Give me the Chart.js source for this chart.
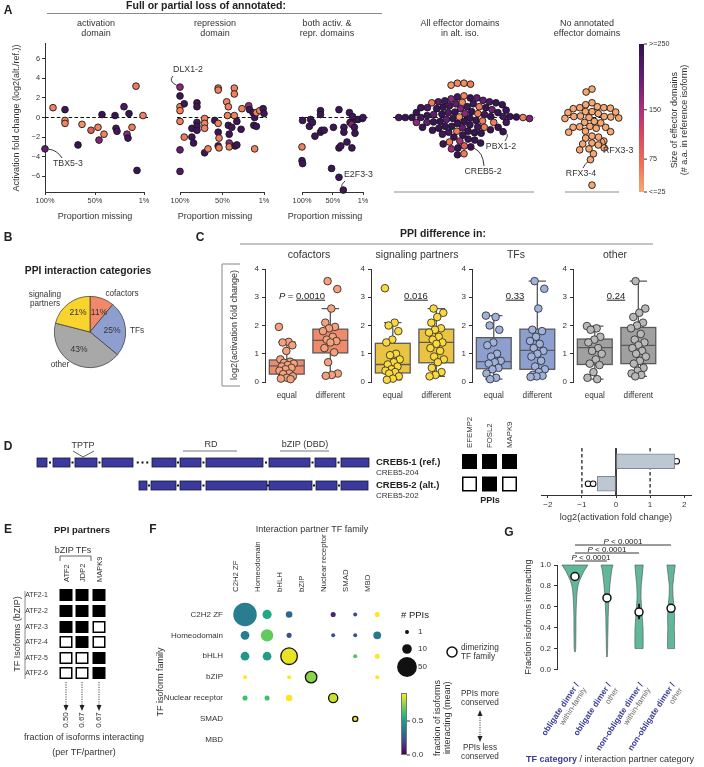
<!DOCTYPE html>
<html><head><meta charset="utf-8">
<script src="https://cdn.jsdelivr.net/npm/chart.js@4.4.1/dist/chart.umd.min.js"></script>
<style>
html,body{margin:0;padding:0;background:#fff;}
#root{position:relative;width:704px;height:767px;overflow:hidden;background:#fff;font-family:"Liberation Sans",Arial,Helvetica,sans-serif;color:#222;}
.t{position:absolute;white-space:nowrap;line-height:1.12;z-index:3;}
.v{writing-mode:vertical-rl;text-align:center;}
canvas{position:absolute;z-index:1;}
svg{position:absolute;left:0;top:0;z-index:2;}
</style></head><body><div id="root"></div>
<script>
// ======================= DATA =======================
// Panel A - activation fold change vs proportion missing
const aActX=[100,92,80,80,80,67,63,54,47,46,43,41,30,29,28,21,18,17,16,13,9,8,2];
const aActY=[-3.2,1.0,0.8,-0.3,-0.6,-2.8,-0.7,-1.3,-1.0,-2.3,0.3,-1.7,0.2,-1.1,-1.4,1.1,-1.7,-2.1,0.4,-1.0,3.2,-5.4,0.2];
const aActSize=[200,55,235,50,55,240,45,90,55,180,240,55,240,230,230,220,170,235,240,60,60,240,55];
const aRepX=[100,100,100,100,100,100,100,95,95,86,84,86,80,80,80,80,80,71,71,71,71,67,59,55,55,55,55,54,55,54,45,43,44,43,42,42,42,36,36,36,39,35,33,33,28,27,19,18,14,12,10,13,10,12,6,2,1];
const aRepY=[3.1,2.2,1.1,0.7,-0.4,-3.3,-5.5,1.4,-2.0,-2.0,-2.6,-1.1,1.5,1.1,-0.5,-0.9,-1.3,-0.1,-0.6,-1.1,-3.6,-3.2,-0.3,3.0,2.8,-0.6,-1.5,-2.1,-2.9,-3.1,1.6,1.1,0.2,-0.8,-1.7,-2.6,-3.0,3.0,2.4,0.2,-1.0,-2.9,-0.4,-2.8,-1.2,0.9,1.2,0.8,0.5,0.0,0.5,-0.8,-0.9,-3.2,0.7,0.9,0.4];
const aRepSize=[170,235,55,55,55,200,220,235,60,235,240,235,235,235,235,235,235,55,55,55,235,55,235,55,55,55,235,55,235,60,55,55,55,235,235,170,55,55,55,55,235,235,235,235,235,55,170,235,235,235,55,235,235,55,55,235,235];
const aBothX=[100,99,100,99,88,86,83,79,70,70,70,68,64,52,49,40,40,40,37,33,32,32,27,23,22,19,19,15,14,13,9,2,1,18];
const aBothY=[-3.0,-0.3,-4.4,-4.7,-0.9,-0.2,-0.5,-1.9,0.7,0.3,-1.5,-1.3,-1.3,-5.2,-1.0,0.8,-3.1,-6.1,-2.9,-7.4,-1.0,-1.5,-2.5,0.5,-0.5,-0.7,-3.1,-1.0,-1.6,-0.2,-0.2,-0.1,0.0,0.1];
const aBothSize=[55,235,235,235,235,235,235,235,235,235,235,235,235,235,235,235,235,235,235,235,235,235,235,235,235,170,235,235,235,235,235,235,235,235];
const aAllY=[3.5,3.4,3.5,3.3,2.0,2.1,2.0,1.9,1.6,1.5,
 1.4,1.5,1.4,1.3,1.6,1.1,1.0,0.9,1.0,1.1,
 0.9,1.0,0.8,1.05,0.6,0.5,0.4,0.5,1.7,0.4,
 0.5,1.75,0.55,0.3,0.35,1.55,0.1,0.0,-0.1,0.05,
 0.0,0.3,-0.05,0.1,0.0,-0.1,0.05,0.0,0.1,-0.3,
 0.0,0.2,-0.2,0.75,1.2,-0.75,-1.25,2.2,-1.8,-2.2,
 -0.4,-0.5,-1.7,-0.6,-0.5,-0.4,-1.55,-0.35,-0.5,-1.3,
 -0.45,-0.5,-0.9,-1.0,-1.1,-0.95,-1.0,-1.05,-0.9,-1.0,
 -1.4,-1.5,-1.4,-1.6,-1.45,-2.0,-2.3,-2.4,-2.5,-2.6,
 -2.7,-2.9,-3.0,-3.1,-3.2,-3.8,-3.7];
const aAllSize=[45,60,50,40,240,230,200,170,220,240,
 200,60,230,240,210,230,240,180,220,60,
 240,230,190,240,240,220,170,240,230,60,
 240,200,240,230,240,50,240,230,240,40,
 240,200,240,230,240,180,240,60,240,240,
 230,240,200,240,230,240,240,50,240,240,
 240,60,230,240,200,240,240,60,230,240,
 240,170,240,60,240,230,240,200,240,240,
 240,230,60,240,240,240,240,150,60,240,
 240,90,240,240,160,240,60];
const aNoneY=[2.9,2.6,1.5,1.1,1.0,0.9,1.0,0.95,0.6,0.5,
 0.55,1.3,0.6,0.4,0.1,0.0,0.05,-0.05,0.1,
 0.15,-0.1,-0.4,-0.5,-2.4,-0.55,-0.4,-0.9,
 -1.0,-1.1,-0.95,-1.0,-1.4,-1.5,-1.45,-1.9,-2.0,-2.1,
 -2.6,-2.7,-2.8,-3.1,-3.2,-3.3,-3.7,-4.3,-6.9];
const aXTicks=[100,50,1];
const aYTicks=[-6,-4,-2,0,2,4,6];
const aSizeTicks=['>=250','150','75','<=25'];
const aSizeTickVals=[250,150,75,25];

// Panel B - PPI categories
const bCategories=['cofactors','TFs','other','signaling partners'];
const bPercent=[11,25,43,21];

// Panel C - box plots
const cGroups=['cofactors','signaling partners','TFs','other'];
const cConditions=['equal','different'];
const cPValues=['0.0010','0.016','0.33','0.24'];
const cCofEqual=[1.95,1.42,1.4,1.3,1.1,0.8,0.72,0.68,0.65,0.6,0.55,0.5,0.45,0.4,0.3,0.28,0.2,0.15,0.12,0.1];
const cCofDiff=[3.57,3.29,2.6,2.1,1.95,1.9,1.8,1.6,1.5,1.45,1.4,1.2,1.05,0.7,0.3,0.25,0.22];
const cSigEqual=[3.32,2.1,2.0,1.8,1.5,1.4,1.0,0.95,0.8,0.7,0.62,0.55,0.45,0.4,0.35,0.3,0.2,0.12,0.08];
const cSigDiff=[2.6,2.45,2.3,2.1,1.9,1.85,1.75,1.6,1.5,1.4,1.35,1.2,1.1,0.9,0.8,0.7,0.5,0.35,0.25,0.2];
const cTfEqual=[2.35,2.3,2.0,1.85,1.4,1.3,1.0,0.9,0.75,0.7,0.65,0.5,0.45,0.3,0.15,0.1];
const cTfDiff=[3.57,3.3,2.6,1.85,1.8,1.6,1.45,1.35,1.2,1.1,1.0,0.9,0.75,0.55,0.45,0.35,0.25,0.22,0.2,0.18];
const cOthEqual=[1.98,1.9,1.85,1.6,1.5,1.4,1.2,1.1,1.0,0.8,0.65,0.6,0.35,0.15,0.1];
const cOthDiff=[3.57,2.6,2.45,2.3,2.1,2.0,1.9,1.7,1.5,1.4,1.3,1.2,1.1,1.0,0.9,0.75,0.65,0.5,0.4,0.3,0.25,0.2];
// box stats: [whisker low, q1, median, q3, whisker high]
const cCofBox=[[0.1,0.28,0.57,0.78,1.42],[0.22,1.03,1.47,1.87,2.6]];
const cSigBox=[[0.08,0.32,0.62,1.37,2.1],[0.2,0.68,1.4,1.87,2.6]];
const cTfBox=[[0.1,0.47,0.72,1.57,2.35],[0.18,0.45,1.12,1.87,3.57]];
const cOthBox=[[0.1,0.62,1.22,1.52,1.98],[0.2,0.65,1.3,1.93,3.57]];

// Panel D
const dIsoforms=['CREB5-1 (ref.)','CREB5-2 (alt.)'];
const dTranscripts=['CREB5-204','CREB5-202'];
const dPartners=['EFEMP2','FOSL2','MAPK9'];
const dPPI=[[1,1,1],[0,1,0]];
const dFold=[1.72,-0.55];
const dRepRef=[1.65,1.78];
const dRepAlt=[-0.82,-0.67,-0.44];
const dXTicks=[-2,-1,0,1,2];

// Panel E
const eIsoforms=['ATF2-1','ATF2-2','ATF2-3','ATF2-4','ATF2-5','ATF2-6'];
const ePartners=['ATF2','JDP2','MAPK9'];
const ePPI=[[1,1,1],[1,1,1],[1,1,0],[0,1,0],[0,0,1],[0,0,1]];
const eFraction=['0.50','0.67','0.67'];

// Panel F
const fFamilies=['C2H2 ZF','Homeodomain','bHLH','bZIP','Nuclear receptor','SMAD','MBD'];
const fRow =[0,0,0,0,0,0, 1,1,1,1,1,1, 2,2,2,2,2, 3,3,3,3, 4,4,4,4, 5];
const fCol =[0,1,2,4,5,6, 0,1,2,4,5,6, 0,1,2,5,6, 0,2,3,6, 0,1,2,4, 5];
const fNPPI=[72,9,4,2,1,2, 8,18,2,1,1,6, 8,8,34,1,2, 1,1,15,1, 2,2,4,9, 2];
const fFrac=[0.38,0.54,0.30,0.09,0.2,0.95, 0.38,0.68,0.22,0.22,0.22,0.36, 0.47,0.50,0.87,0.65,0.95, 0.95,0.95,0.74,0.95, 0.63,0.63,0.95,0.83, 0.95];
const fDimer=[0,0,0,0,0,0, 0,0,0,0,0,0, 0,0,1,0,0, 0,0,1,0, 0,0,0,1, 1];
const fLegendN=[1,10,50];
const fColorTicks=['0.5','0.0'];

// Panel G
const gCategory=[['obligate dimer','within-family'],['obligate dimer','other'],['non-obligate dimer','within-family'],['non-obligate dimer','other']];
const gMeans=[0.89,0.685,0.55,0.585];
const gErrLo=[0.85,0.665,0.48,0.55];
const gErrHi=[0.93,0.705,0.63,0.62];
const gViolinLevels=[
 [0.17,0.2,0.3,0.4,0.5,0.6,0.7,0.75,0.8,0.85,0.9,0.94,0.97,1.0],
 [0.12,0.2,0.3,0.4,0.5,0.6,0.7,0.8,0.9,0.96,1.0],
 [0.2,0.25,0.3,0.4,0.5,0.6,0.7,0.8,0.9,1.0],
 [0.2,0.3,0.4,0.5,0.6,0.7,0.8,0.9,1.0]];
const gViolinDensity=[
 [0.03,0.06,0.07,0.08,0.08,0.10,0.14,0.17,0.23,0.35,0.54,0.69,0.85,1.0],
 [0.02,0.05,0.06,0.08,0.09,0.12,0.17,0.22,0.31,0.38,0.46],
 [0.31,0.32,0.32,0.31,0.25,0.19,0.15,0.17,0.25,0.32],
 [0.27,0.27,0.25,0.27,0.23,0.15,0.13,0.22,0.32]];
const gBrackets=[[0,3],[0,2],[0,1]];
const gYTicks=[0,0.2,0.4,0.6,0.8,1.0];

// ======================= SETUP =======================
const FONT='"Liberation Sans", Arial, Helvetica, sans-serif';
Chart.defaults.font.family=FONT; Chart.defaults.color='#333'; Chart.defaults.animation=false;
Chart.defaults.responsive=false; Chart.defaults.maintainAspectRatio=false;
Chart.defaults.plugins.legend.display=false; Chart.defaults.plugins.tooltip.enabled=false;
Chart.defaults.events=[];
const root=document.getElementById('root');
const NS='http://www.w3.org/2000/svg';
const svg=document.createElementNS(NS,'svg');svg.setAttribute('width',704);svg.setAttribute('height',767);root.appendChild(svg);
function S(tag,a){const e=document.createElementNS(NS,tag);for(const k in a)e.setAttribute(k,a[k]);svg.appendChild(e);return e;}
function line(x1,y1,x2,y2,stroke,w,dash){const a={x1,y1,x2,y2,stroke:stroke||'#222','stroke-width':w||1};if(dash)a['stroke-dasharray']=dash;return S('line',a);}
function rect(x,y,w,h,fill,stroke,sw){return S('rect',{x,y,width:w,height:h,fill,stroke:stroke||'none','stroke-width':sw||0});}
function circ(cx,cy,r,fill,stroke,sw){return S('circle',{cx,cy,r,fill,stroke:stroke||'none','stroke-width':sw||0});}
function T(x,y,html,size,style,anchor){const d=document.createElement('div');d.className='t';d.innerHTML=html;d.style.left=x+'px';d.style.top=y+'px';d.style.fontSize=size+'px';const ax=anchor==='l'?'0':anchor==='r'?'-100%':'-50%';d.style.transform='translate('+ax+',-50%)';if(style)d.style.cssText+=';'+style;root.appendChild(d);return d;}
function V(x,y,html,size,style,bottom){const d=document.createElement('div');d.className='t v';d.innerHTML=html;d.style.left=x+'px';d.style.top=y+'px';d.style.fontSize=size+'px';d.style.transform=bottom?'translate(-50%,-100%) rotate(180deg)':'translate(-50%,-50%) rotate(180deg)';if(style)d.style.cssText+=';'+style;root.appendChild(d);return d;}
function mkCanvas(x,y,w,h){const c=document.createElement('canvas');c.width=w;c.height=h;c.style.left=x+'px';c.style.top=y+'px';c.style.width=w+'px';c.style.height=h+'px';root.appendChild(c);return c;}
function hex(h){return [1,3,5].map(i=>parseInt(h.substr(i,2),16));}
function lerpColor(stops,t){t=Math.max(0,Math.min(1,t));for(let i=1;i<stops.length;i++){if(t<=stops[i][0]){const a=hex(stops[i-1][1]),b=hex(stops[i][1]);const f=(t-stops[i-1][0])/(stops[i][0]-stops[i-1][0]);return 'rgb('+a.map((v,k)=>Math.round(v+(b[k]-v)*f)).join(',')+')';}}return stops[stops.length-1][1];}
const MAGMA=[[0,'#f7a772'],[0.2,'#ee6e55'],[0.4,'#d4465f'],[0.56,'#a8317a'],[0.75,'#6a1f75'],[1,'#2e1150']];
const VIRIDIS=[[0,'#440154'],[0.1,'#482475'],[0.2,'#414487'],[0.3,'#355f8d'],[0.4,'#2a788e'],[0.5,'#21918c'],[0.6,'#22a884'],[0.7,'#44bf70'],[0.8,'#7ad151'],[0.9,'#bddf26'],[1,'#fde725']];
const sizeColor=s=>lerpColor(MAGMA,(s-25)/225);
const fracColor=f=>lerpColor(VIRIDIS,f/0.9);
const grad=st=>'linear-gradient(to top,'+st.map(s=>s[1]+' '+(s[0]*100)+'%').join(',')+')';
const fmt=v=>(v<0?'\u2212':'')+Math.abs(v);
const BLUE='#3b3b9b';
const fixH=h=>s=>{s.height=h;s.paddingLeft=0;s.paddingRight=0;};
const fixW=w=>s=>{s.width=w;s.paddingTop=0;s.paddingBottom=0;};

// ======================= PANEL A =======================
function zeroLine(eL,eR){return{id:'zl',beforeDatasetsDraw(ch){const{ctx,chartArea:a,scales:{y}}=ch;const py=y.getPixelForValue(0);ctx.save();ctx.setLineDash([3.6,2.3]);ctx.lineWidth=1.2;ctx.strokeStyle='#111';ctx.beginPath();ctx.moveTo(a.left-eL,py);ctx.lineTo(a.right+eR,py);ctx.stroke();ctx.restore();}};}
function baseLine(){return{id:'bl',beforeDatasetsDraw(ch){const{ctx,chartArea:a}=ch;ctx.save();ctx.strokeStyle='#8c8c8c';ctx.lineWidth=1.2;ctx.beginPath();ctx.moveTo(a.left,a.bottom);ctx.lineTo(a.right,a.bottom);ctx.stroke();ctx.restore();}};}
function labelsPlugin(list,ox,oy){return{id:'lbl',afterDatasetsDraw(ch){const ctx=ch.ctx;const els=ch.getDatasetMeta(0).data;ctx.save();ctx.font='8.8px '+FONT;ctx.fillStyle='#333';ctx.strokeStyle='#222';ctx.lineWidth=0.9;
 list.forEach(L=>{let best=null,bd=1e9;els.forEach(e=>{const d=(e.x-(L.px-ox))**2+(e.y-(L.py-oy))**2;if(d<bd){bd=d;best=e;}});
  const cpx=L.cp[0]-ox,cpy=L.cp[1]-oy,ex=L.lx-ox,ey=L.ly-oy;const ang=Math.atan2(cpy-best.y,cpx-best.x);
  ctx.beginPath();ctx.moveTo(best.x+3.6*Math.cos(ang),best.y+3.6*Math.sin(ang));ctx.quadraticCurveTo(cpx,cpy,ex,ey);ctx.stroke();
  ctx.textAlign=L.align;ctx.textBaseline='middle';ctx.fillText(L.text,L.tx-ox,L.ty-oy);});ctx.restore();}};}
function makeA(o){
 const c=mkCanvas(o.cx,35,o.cw,200);
 const pts=o.ys.map((y,i)=>({x:o.xs?o.xs[i]:0,y:y}));
 const colors=o.sizes?o.sizes.map(sizeColor):sizeColor(0);
 const tickFont={size:7.4};
 const xScale=o.swarm?{type:'linear',display:false,min:-o.half,max:o.half}:
  {type:'linear',min:1,max:100,reverse:true,afterBuildTicks:s=>{s.ticks=aXTicks.map(v=>({value:v}));},
   ticks:{callback:v=>v+'%',font:tickFont,color:'#333',padding:2,maxRotation:0,autoSkip:false},
   grid:{drawOnChartArea:false,tickLength:3,color:'#333'},border:{color:'#333',width:1},afterFit:fixH(43)};
 const chart=new Chart(c,{type:'scatter',data:{datasets:[{data:pts,pointRadius:3.35,pointBorderWidth:0.9,pointBorderColor:'#1a1a1a',pointBackgroundColor:colors,clip:false}]},
  options:{layout:{padding:{left:o.showY?0:o.aL-o.cx,right:o.cx+o.cw-o.aR,top:8,bottom:o.swarm?43:0}},
   scales:{x:xScale,
    y:{type:'linear',display:!!o.showY,min:-7.6,max:7.6,afterBuildTicks:s=>{s.ticks=aYTicks.map(v=>({value:v}));},
     ticks:{callback:fmt,font:tickFont,color:'#333',padding:2},grid:{drawOnChartArea:false,tickLength:3,color:'#333'},border:{color:'#333',width:1},afterFit:fixW(o.aL-o.cx)}}},
  plugins:[zeroLine(o.eL,o.eR),labelsPlugin(o.labels||[],o.cx,35)].concat(o.swarm?[baseLine()]:[])});
 if(o.swarm){
  const r=3.3;const ys=pts.map(p=>chart.scales.y.getPixelForValue(p.y));
  const order=ys.map((y,i)=>i).sort((a,b)=>ys[a]-ys[b]);const placed=[];const off=[];
  order.forEach(i=>{const y=ys[i];const near=placed.filter(p=>Math.abs(p.y-y)<2*r);const cands=[0];
   near.forEach(p=>{const dx=Math.sqrt(4*r*r-(p.y-y)**2);cands.push(p.x+dx,p.x-dx);});
   cands.sort((a,b)=>Math.abs(a)-Math.abs(b)||a-b);let best=0;
   for(const cd of cands){if(near.every(p=>(p.x-cd)**2+(p.y-y)**2>=4*r*r-0.01)){best=cd;break;}}
   off[i]=best;placed.push({x:best,y:y});});
  const x0=chart.scales.x.getPixelForValue(0);
  pts.forEach((p,i)=>{p.x=chart.scales.x.getValueForPixel(x0+off[i]);});
  chart.update('none');
 }
 return chart;
}
makeA({cx:0,cw:152,aL:45,aR:144,showY:true,xs:aActX,ys:aActY,sizes:aActSize,eL:0,eR:4,
 labels:[{px:46,py:149,text:'TBX5-3',tx:53,ty:164,align:'left',lx:62,ly:158,cp:[57,150]}]});
makeA({cx:152,cw:118,aL:166,aR:264,xs:aRepX,ys:aRepY,sizes:aRepSize,eL:3,eR:3,
 labels:[{px:165,py:87,text:'DLX1-2',tx:188,ty:70,align:'center',lx:173,ly:76,cp:[168,81]}]});
makeA({cx:270,cw:106,aL:286,aR:363,xs:aBothX,ys:aBothY,sizes:aBothSize,eL:3,eR:7,
 labels:[{px:338,py:191,text:'E2F3-3',tx:344,ty:175,align:'left',lx:345,ly:181,cp:[341,185]}]});
makeA({cx:378,cw:164,aL:386,aR:534,swarm:true,half:74,ys:aAllY,sizes:aAllSize,eL:1,eR:1,
 labels:[{px:505,py:133,text:'PBX1-2',tx:501,ty:147,align:'center',lx:505,ly:141,cp:[509,135]},
         {px:472,py:148,text:'CREB5-2',tx:483,ty:172,align:'center',lx:484,ly:166,cp:[483,152]}]});
makeA({cx:545,cw:91,aL:555,aR:619,swarm:true,half:32,ys:aNoneY,sizes:null,eL:2,eR:1,
 labels:[{px:597,py:137,text:'RFX3-3',tx:603,ty:151,align:'left',lx:606,ly:147,cp:[605,139]},
         {px:586,py:160,text:'RFX3-4',tx:581,ty:174,align:'center',lx:583,ly:168,cp:[585,164]}]});

T(8,11,'A',12,'font-weight:bold');
T(206,6,'Full or partial loss of annotated:',10.5,'font-weight:bold');
line(47,13.5,382,13.5,'#8a8a8a',1.2);
T(96,28,'activation<br>domain',9,'text-align:center;color:#333');
T(215,28,'repression<br>domain',9,'text-align:center;color:#333');
T(327,28,'both activ. &amp;<br>repr. domains',9,'text-align:center;color:#333');
T(460,28,'All effector domains<br>in alt. iso.',9,'text-align:center;color:#333');
T(587,28,'No annotated<br>effector domains',9,'text-align:center;color:#333');
V(16,118,'Activation fold change (log2(alt./ref.))',9,'color:#333');
[95,215,325].forEach(x=>T(x,216,'Proportion missing',9,'color:#333'));
// colorbar A
(function(){const d=document.createElement('div');d.style.cssText='position:absolute;left:639px;top:44px;width:5px;height:148px;z-index:2;background:'+grad(MAGMA);root.appendChild(d);
 aSizeTickVals.forEach((v,i)=>{const y=192-(v-25)/225*148;line(644,y,647,y,'#333',1);T(649,y,aSizeTicks[i],7.2,'color:#333','l');});
 V(679,120,'Size of effector domains<br>(# a.a. in reference isoform)',9,'color:#333');})();

// ======================= PANEL B =======================
T(8,238,'B',12,'font-weight:bold');
T(88,271,'PPI interaction categories',10.3,'font-weight:bold');
new Chart(mkCanvas(40,282,100,100),{type:'pie',data:{labels:bCategories,datasets:[{data:bPercent,backgroundColor:['#f2886a','#8e9fcf','#a8a8a8','#f9d42f'],borderColor:'#333',borderWidth:0.7}]},options:{layout:{padding:14}}});
T(45,299,'signaling<br>partners',8.2,'text-align:center;color:#333');
T(122,294,'cofactors',8.2,'color:#333');
T(137,331,'TFs',8.2,'color:#333');
T(60,365,'other',8.2,'color:#333');
T(78,313,bPercent[3]+'%',8.5,'color:#333');
T(99,313,bPercent[0]+'%',8.5,'color:#333');
T(112,331,bPercent[1]+'%',8.5,'color:#333');
T(79,350,bPercent[2]+'%',8.5,'color:#333');

// ======================= PANEL C =======================
T(200,238,'C',12,'font-weight:bold');
T(443,234,'PPI difference in:',10.5,'font-weight:bold');
line(240,244,653,244,'#8a8a8a',1.2);
line(222,264,222,386,'#9a9a9a',1.2);line(222,264,240,264,'#9a9a9a',1.2);line(222,386,240,386,'#9a9a9a',1.2);
V(234,325,'log2(activation fold change)',9,'color:#333');
const jit=i=>(((i*0.618034)%1)-0.5)*0.36;
function boxPlugin(stats,fill){return{id:'box',beforeDatasetsDraw(ch){const{ctx,scales:{x,y}}=ch;ctx.save();
 stats.forEach((s,k)=>{const cx=x.getPixelForValue(k);const hw=x.getPixelForValue(0.4)-x.getPixelForValue(0);const p=s.map(v=>y.getPixelForValue(v));
  ctx.strokeStyle='#5a5a5a';ctx.lineWidth=1.3;ctx.beginPath();ctx.moveTo(cx,p[3]);ctx.lineTo(cx,p[4]);ctx.moveTo(cx-hw/2,p[4]);ctx.lineTo(cx+hw/2,p[4]);
  ctx.moveTo(cx,p[1]);ctx.lineTo(cx,p[0]);ctx.moveTo(cx-hw/2,p[0]);ctx.lineTo(cx+hw/2,p[0]);ctx.stroke();
  ctx.fillStyle=fill;ctx.fillRect(cx-hw,p[3],2*hw,p[1]-p[3]);ctx.strokeRect(cx-hw,p[3],2*hw,p[1]-p[3]);
  ctx.beginPath();ctx.moveTo(cx-hw,p[2]);ctx.lineTo(cx+hw,p[2]);ctx.stroke();});ctx.restore();}};}
function makeC(axisX,eq,diff,stats,boxFill,ptFill){
 const c=mkCanvas(axisX-26,258,118,142);
 const pts=eq.map((v,i)=>({x:0+jit(i),y:v})).concat(diff.map((v,i)=>({x:1+jit(i+7),y:v})));
 new Chart(c,{type:'scatter',data:{datasets:[{data:pts,pointRadius:3.8,pointBorderWidth:0.9,pointBorderColor:'#333',pointBackgroundColor:ptFill,clip:false}]},
  options:{layout:{padding:{left:0,right:2,top:11,bottom:0}},
   scales:{x:{type:'linear',min:-0.5,max:1.5,afterBuildTicks:s=>{s.ticks=[{value:0},{value:1}];},ticks:{callback:v=>cConditions[v],font:{size:8.2},color:'#333',padding:1,maxRotation:0,autoSkip:false},grid:{display:false},border:{display:false},afterFit:fixH(18)},
    y:{type:'linear',min:0,max:4,afterBuildTicks:s=>{s.ticks=[0,1,2,3,4].map(v=>({value:v}));},ticks:{font:{size:8},color:'#333',padding:3},grid:{drawOnChartArea:false,tickLength:3,color:'#333'},border:{color:'#333',width:1},afterFit:fixW(26)}}},
  plugins:[boxPlugin(stats,boxFill)]});
}
makeC(265,cCofEqual,cCofDiff,cCofBox,'#ef8b6c','#f6a07c');
makeC(371,cSigEqual,cSigDiff,cSigBox,'#e9c443','#fbd93a');
makeC(472,cTfEqual,cTfDiff,cTfBox,'#8d9fcf','#9fb1dd');
makeC(573,cOthEqual,cOthDiff,cOthBox,'#a0a0a0','#b8b8b8');
[[309,0],[417,1],[516,2],[615,3]].forEach(([x,i])=>T(x,255,cGroups[i],10.5,'color:#333'));
T(302,296,'<i>P</i> = <u>'+cPValues[0]+'</u>',9.5,'color:#222');
T(416,296,'<u>'+cPValues[1]+'</u>',9.5,'color:#222');
T(515,296,'<u>'+cPValues[2]+'</u>',9.5,'color:#222');
T(616,296,'<u>'+cPValues[3]+'</u>',9.5,'color:#222');

// ======================= PANEL D =======================
T(8,447,'D',12,'font-weight:bold');
const refExons=[[37,47],[53,70],[75,97],[102,133],[152,176],[180,201],[206,263],[269,310],[315,336],[341,369]];
const altExons=[[139,147],[151,176],[180,201],[206,267],[269,312],[316,337],[341,368]];
function gene(ex,top,dotsAfter){ex.forEach((e,i)=>{rect(e[0],top,e[1]-e[0],9,'#3b3b9e','#14143a',0.8);
 if(i<ex.length-1){const g0=e[1],g1=ex[i+1][0];if(i===dotsAfter){[0.25,0.5,0.75].forEach(f=>rect(g0+(g1-g0)*f-1,top+3.5,2,2,'#111'));}else{rect((g0+g1)/2-1,top+3.5,2,2,'#111');}}});}
gene(refExons,458,3);gene(altExons,481,-1);
T(83,445,'TPTP',9,'color:#333');line(73,451,83,457,'#333',0.8);line(94,451,83,457,'#333',0.8);
T(211,444,'RD',9,'color:#333');line(183,451,237,451,'#777',1);
T(305,444,'bZIP (DBD)',9,'color:#333');line(280,451,329,451,'#777',1);
T(376,462,dIsoforms[0],9.5,'font-weight:bold','l');T(376,473,dTranscripts[0],8,'color:#333','l');
T(376,485,dIsoforms[1],9.5,'font-weight:bold','l');T(376,496,dTranscripts[1],8,'color:#333','l');
dPartners.forEach((p,j)=>{const x=462+j*20;V(x+7.5,448,p,7.8,'color:#333',true);
 dPPI.forEach((row,i)=>{const y=454+i*22.5;if(row[j])rect(x,y,15,15,'#000');else rect(x+0.75,y+0.75,13.5,13.5,'#fff','#000',1.5);});});
T(490,500,'PPIs',9,'font-weight:bold');
new Chart(mkCanvas(530,440,174,72),{type:'bar',data:{labels:dIsoforms,datasets:[
 {type:'bar',indexAxis:'y',data:dFold,backgroundColor:'#bcc7d1',borderColor:'#7d8892',borderWidth:1,barThickness:15,borderSkipped:false},
 {type:'scatter',data:dRepRef.map(v=>({x:v,y:dIsoforms[0]})).concat(dRepAlt.map(v=>({x:v,y:dIsoforms[1]}))),pointRadius:2.8,pointBackgroundColor:'#fff',pointBorderColor:'#111',pointBorderWidth:1.1}]},
 options:{indexAxis:'y',layout:{padding:{left:11,right:13,top:10,bottom:0}},
  scales:{x:{type:'linear',min:-2.2,max:2.2,afterBuildTicks:s=>{s.ticks=dXTicks.map(v=>({value:v}));},ticks:{callback:fmt,font:{size:8},color:'#333',padding:2},grid:{drawOnChartArea:false,tickLength:3,color:'#333'},border:{color:'#333',width:1},afterFit:fixH(17)},
   y:{type:'category',display:false,offset:true}}},
 plugins:[{id:'vl',beforeDatasetsDraw(ch){const{ctx,chartArea:a,scales:{x}}=ch;ctx.save();[-1,0,1].forEach(v=>{const px=x.getPixelForValue(v);ctx.beginPath();ctx.setLineDash(v?[3.5,2.5]:[]);ctx.lineWidth=v?1.2:1.6;ctx.strokeStyle='#111';ctx.moveTo(px,a.top-2);ctx.lineTo(px,a.bottom);ctx.stroke();});ctx.restore();}}]});
T(616,517,'log2(activation fold change)',9.2,'color:#333');

// ======================= PANEL E =======================
T(8,530,'E',12,'font-weight:bold');
T(82,530,'PPI partners',9.5,'font-weight:bold');
T(73,550,'bZIP TFs',9,'color:#333');
line(60,556,91,556,'#555',0.9);line(60,556,60,561,'#555',0.9);line(91,556,91,561,'#555',0.9);
const eX=[66,82,99],eYc=[595,611,627,642,658,673];
ePartners.forEach((p,j)=>V(eX[j]+1,582,p,7.5,'color:#333',true));
eIsoforms.forEach((iso,i)=>{T(48,eYc[i],iso,7,'color:#333','r');
 ePPI[i].forEach((v,j)=>{if(v)rect(eX[j]-6.5,eYc[i]-6,13,12,'#000');else rect(eX[j]-5.75,eYc[i]-5.25,11.5,10.5,'#fff','#000',1.5);});});
line(25,591,25,679,'#8a8a8a',1);
V(17,634,'TF Isoforms (bZIP)',9,'color:#333');
eX.forEach((x,j)=>{line(x,682,x,705,'#333',0.9,'1.2,1.2');S('path',{d:`M${x-2.5},705 L${x+2.5},705 L${x},711 Z`,fill:'#222'});V(x,720,eFraction[j],8,'color:#333');});
T(84,737,'fraction of isoforms interacting',9,'color:#333');
T(84,752,'(per TF/partner)',9,'color:#333');

// ======================= PANEL F =======================
T(153,530,'F',12,'font-weight:bold');
T(312,529,'Interaction partner TF family',9,'color:#333');
V(160,682,'TF isoform family',9,'color:#333');
const rOf=n=>0.7+1.3*Math.sqrt(n);
new Chart(mkCanvas(160,522,240,240),{type:'bubble',data:{datasets:[{data:fRow.map((r,i)=>({x:fCol[i],y:r,r:rOf(fNPPI[i])})),
 backgroundColor:fFrac.map(fracColor),borderColor:'#111',borderWidth:fDimer.map(d=>d?1.3:0),clip:false}]},
 options:{layout:{padding:{left:0,right:10,top:0,bottom:5}},
  scales:{x:{type:'linear',position:'top',min:-0.5,max:6.5,afterBuildTicks:s=>{s.ticks=fFamilies.map((f,i)=>({value:i}));},ticks:{callback:v=>fFamilies[v],font:{size:7.8},color:'#333',padding:4,minRotation:90,maxRotation:90,autoSkip:false},grid:{display:false},border:{display:false},afterFit:fixH(82)},
   y:{type:'linear',reverse:true,min:-0.5,max:6.5,afterBuildTicks:s=>{s.ticks=fFamilies.map((f,i)=>({value:i}));},ticks:{callback:v=>fFamilies[v],font:{size:8},color:'#333',padding:3,autoSkip:false},grid:{display:false},border:{display:false},afterFit:fixW(74)}}}});
T(415,615,'# PPIs',9.5,'color:#222');
fLegendN.forEach((n,i)=>{const y=[632,649,667][i];circ(407,y,rOf(n),'#111');T(418,y,String(n),8,'color:#333','l');});
circ(452,652,5,'#fff','#111',1.5);
T(461,652,'dimerizing<br>TF family',8.3,'color:#333','l');
(function(){const d=document.createElement('div');d.style.cssText='position:absolute;left:401px;top:693px;width:6px;height:62px;z-index:2;border:0.5px solid #777;box-sizing:border-box;background:'+grad(VIRIDIS);root.appendChild(d);
 [[0.5,721],[0,755]].forEach((v,i)=>{line(407,v[1],410,v[1],'#333',1);T(412,v[1],fColorTicks[i],8,'color:#333','l');});
 V(442,718,'fraction of isoforms<br>interacting (mean)',9,'color:#333');})();
T(480,698,'PPIs more<br>conserved',8.2,'text-align:center;color:#333');
line(480,715,480,737,'#333',0.9,'1.2,1.2');
S('path',{d:'M477.5,716 L482.5,716 L480,710 Z',fill:'#222'});S('path',{d:'M477.5,736 L482.5,736 L480,742 Z',fill:'#222'});
T(480,752,'PPIs less<br>conserved',8.2,'text-align:center;color:#333');

// ======================= PANEL G =======================
T(509,533,'G',12,'font-weight:bold');
V(528,617,'Fraction isoforms interacting',9.2,'color:#333');
const gPlugin={id:'vio',beforeDatasetsDraw(ch){const{ctx,chartArea:a,scales:{x,y}}=ch;const unit=13;ctx.save();
 gViolinLevels.forEach((lv,k)=>{const cx=x.getPixelForValue(k);const d=gViolinDensity[k];ctx.beginPath();
  lv.forEach((v,j)=>{const px=cx+d[j]*unit,py=y.getPixelForValue(v);if(j)ctx.lineTo(px,py);else ctx.moveTo(px,py);});
  for(let j=lv.length-1;j>=0;j--)ctx.lineTo(cx-d[j]*unit,y.getPixelForValue(lv[j]));
  ctx.closePath();ctx.fillStyle='#60b79a';ctx.fill();ctx.strokeStyle='#4d4d4d';ctx.lineWidth=0.6;ctx.stroke();
  ctx.beginPath();ctx.moveTo(cx,y.getPixelForValue(gErrLo[k]));ctx.lineTo(cx,y.getPixelForValue(gErrHi[k]));ctx.strokeStyle='#111';ctx.lineWidth=1.8;ctx.stroke();});
 gBrackets.forEach((b,i)=>{const yy=a.top-20+i*8;const x0=x.getPixelForValue(b[0]),x1=x.getPixelForValue(b[1]);ctx.beginPath();ctx.lineWidth=0.9;ctx.strokeStyle='#222';ctx.moveTo(x0,yy);ctx.lineTo(x1,yy);ctx.stroke();
  ctx.fillStyle='#222';ctx.textBaseline='alphabetic';ctx.font='italic 8px '+FONT;const w1=ctx.measureText('P').width;ctx.font='8px '+FONT;const rest=' < 0.0001';const w2=ctx.measureText(rest).width;const sx=(x0+x1)/2-(w1+w2)/2;
  ctx.font='italic 8px '+FONT;ctx.fillText('P',sx,yy-1.5);ctx.font='8px '+FONT;ctx.fillText(rest,sx+w1,yy-1.5);});
 ctx.restore();}};
const gChart=new Chart(mkCanvas(510,530,194,145),{type:'scatter',data:{datasets:[{data:gMeans.map((m,i)=>({x:i,y:m})),pointRadius:4,pointBackgroundColor:'#fff',pointBorderColor:'#111',pointBorderWidth:1.5}]},
 options:{layout:{padding:{left:0,right:15,top:35,bottom:5}},
  scales:{x:{type:'linear',display:false,min:-0.56,max:3.56},
   y:{type:'linear',min:0,max:1,afterBuildTicks:s=>{s.ticks=gYTicks.map(v=>({value:v}));},ticks:{callback:v=>v.toFixed(1),font:{size:8},color:'#333',padding:3},grid:{drawOnChartArea:false,tickLength:3,color:'#333'},border:{color:'#333',width:1},afterFit:fixW(47)}}},
 plugins:[gPlugin]});
gCategory.forEach((c,i)=>{const cx=gChart.scales.x.getPixelForValue(i)+510;const d=document.createElement('div');d.className='t';
 d.style.cssText+=';right:'+(704-(cx-2))+'px;top:681px;text-align:right;transform-origin:100% 0;transform:rotate(-57deg);font-size:8.3px;line-height:1.05';
 d.innerHTML='<span style="color:'+BLUE+';font-weight:bold">'+c[0]+' /</span><br><span style="color:#666;font-size:7.8px">'+c[1]+'</span>';root.appendChild(d);});
T(526,759,'<b style="color:'+BLUE+'">TF category</b> / interaction partner category',9,'color:#333','l');
</script></body></html>
